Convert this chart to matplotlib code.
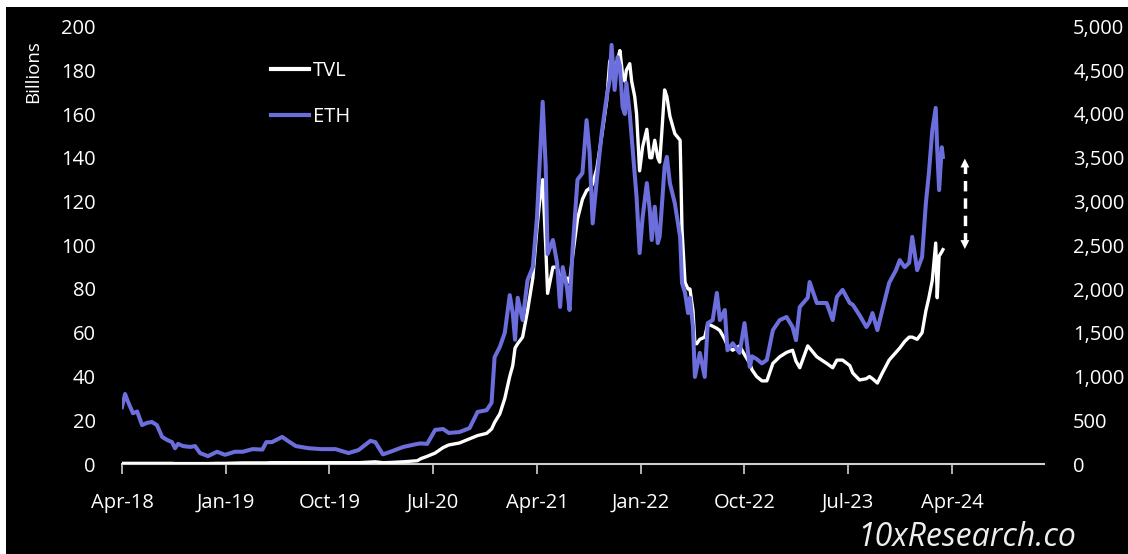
import pandas as pd
import matplotlib.pyplot as plt
import matplotlib.dates as mdates
from matplotlib.patches import Rectangle
from matplotlib.lines import Line2D
from matplotlib.ticker import FuncFormatter, MultipleLocator

plt.rcParams['font.family'] = ['Open Sans', 'DejaVu Sans']

# DeFi TVL (billions, left axis) and ETH price (USD, right axis)
dates = [
    "2018-04-25", "2018-05-03", "2018-05-11", "2018-05-24", "2018-06-04", "2018-06-17",
    "2018-06-30", "2018-07-13", "2018-07-26", "2018-08-09", "2018-08-22", "2018-09-04",
    "2018-09-12", "2018-09-20", "2018-10-03", "2018-10-22", "2018-11-04", "2018-11-17",
    "2018-12-08", "2019-01-01", "2019-01-22", "2019-02-17", "2019-03-10", "2019-04-05",
    "2019-05-01", "2019-05-11", "2019-05-26", "2019-06-22", "2019-07-05", "2019-07-28",
    "2019-08-31", "2019-10-04", "2019-11-10", "2019-12-14", "2020-01-10", "2020-02-10",
    "2020-02-23", "2020-03-14", "2020-04-03", "2020-05-07", "2020-06-13", "2020-06-23",
    "2020-07-09", "2020-07-30", "2020-08-20", "2020-09-04", "2020-10-02", "2020-10-29",
    "2020-11-19", "2020-12-13", "2020-12-26", "2021-01-03", "2021-01-17", "2021-01-30",
    "2021-02-12", "2021-02-20", "2021-02-26", "2021-03-05", "2021-03-18", "2021-03-31",
    "2021-04-14", "2021-04-25", "2021-05-02", "2021-05-10", "2021-05-18", "2021-05-23",
    "2021-06-06", "2021-06-17", "2021-06-25", "2021-07-02", "2021-07-13", "2021-07-20",
    "2021-07-28", "2021-08-10", "2021-08-23", "2021-09-03", "2021-09-11", "2021-09-19",
    "2021-09-30", "2021-10-13", "2021-10-26", "2021-11-03", "2021-11-08", "2021-11-16",
    "2021-11-24", "2021-11-30", "2021-12-07", "2021-12-13", "2021-12-17", "2021-12-26",
    "2021-12-31", "2022-01-08", "2022-01-13", "2022-01-21", "2022-01-29", "2022-02-09",
    "2022-02-17", "2022-02-22", "2022-03-02", "2022-03-10", "2022-03-15", "2022-03-20",
    "2022-03-28", "2022-04-03", "2022-04-11", "2022-04-24", "2022-05-08", "2022-05-13",
    "2022-05-21", "2022-05-29", "2022-06-03", "2022-06-11", "2022-06-16", "2022-06-21",
    "2022-06-29", "2022-07-12", "2022-07-20", "2022-08-02", "2022-08-13", "2022-08-21",
    "2022-09-03", "2022-09-10", "2022-09-24", "2022-10-12", "2022-10-25", "2022-11-08",
    "2022-11-14", "2022-11-26", "2022-12-10", "2022-12-23", "2023-01-08", "2023-01-26",
    "2023-02-13", "2023-03-01", "2023-03-10", "2023-03-20", "2023-04-10", "2023-04-15",
    "2023-05-04", "2023-05-30", "2023-06-15", "2023-06-26", "2023-07-11", "2023-07-30",
    "2023-08-07", "2023-08-25", "2023-09-12", "2023-09-20", "2023-09-28", "2023-10-11",
    "2023-10-24", "2023-11-11", "2023-11-29", "2023-12-09", "2023-12-22", "2024-01-03",
    "2024-01-11", "2024-01-24", "2024-02-06", "2024-02-16", "2024-02-24", "2024-03-04",
    "2024-03-13", "2024-03-17", "2024-03-22", "2024-03-29", "2024-04-01",
]

tvl = [
    0.3, 0.3, 0.3, 0.3, 0.3, 0.3,
    0.3, 0.3, 0.3, 0.3, 0.3, 0.3,
    0.2, 0.2, 0.2, 0.2, 0.2, 0.2,
    0.2, 0.3, 0.3, 0.4, 0.5, 0.5,
    0.5, 0.5, 0.6, 0.6, 0.6, 0.6,
    0.6, 0.6, 0.6, 0.6, 0.6, 0.9,
    1.0, 0.6, 0.7, 1.0, 1.5, 2.5,
    3.5, 5.0, 7.5, 8.7, 9.6, 11.5,
    13, 14, 16, 19, 23, 30,
    40, 45, 53, 55, 58, 70,
    85, 108, 120, 130, 100, 78,
    90, 90, 85, 84, 85, 83,
    95, 112, 121, 125, 126, 128,
    135, 150, 166, 184, 186, 180,
    185, 189, 178, 175, 180, 183,
    175, 168, 160, 134, 145, 153,
    140, 140, 148, 140, 138, 150,
    171, 168, 159, 151, 148, 107,
    83, 80, 80, 70, 55, 55,
    57, 58, 64, 63, 62, 61,
    57, 54, 52, 54, 50, 46,
    43, 40, 38, 38, 46, 49,
    51, 52, 47, 44, 54, 53,
    49, 46, 44, 47.5, 47.5, 45,
    41.6, 38.4, 39, 40, 39, 37,
    41.6, 47.5, 51, 53, 56, 58,
    58, 57, 60, 70, 76, 84,
    101, 76, 95, 97, 98,
]

eth = [
    650, 800, 710, 580, 600, 445,
    470, 480, 445, 310, 275, 250,
    180, 230, 205, 195, 205, 125,
    90, 140, 105, 140, 140, 170,
    165, 250, 250, 310, 270, 205,
    180, 170, 170, 125, 160, 265,
    250, 110, 140, 195, 230, 235,
    230, 390, 400, 355, 365, 410,
    595, 615, 700, 1220, 1340, 1500,
    1930, 1725, 1420, 1900, 1645, 2100,
    2250, 2820, 3440, 4140, 3400, 2400,
    2560, 2300, 1795, 2250, 2020, 1760,
    2450, 3250, 3325, 3930, 3555, 2750,
    3250, 3785, 4195, 4390, 4790, 4275,
    4650, 4550, 4080, 4000, 4355, 4000,
    3735, 3300, 3050, 2410, 2820, 3210,
    2900, 2560, 2940, 2525, 2600, 2900,
    3400, 3510, 3210, 2980, 2595, 2070,
    1955, 1725, 1900, 1565, 995, 1100,
    1270, 995, 1610, 1645, 1955, 1645,
    1760, 1300, 1380, 1270, 1610, 1110,
    1230, 1200, 1150, 1190, 1530, 1645,
    1680, 1565, 1415, 1795, 1900, 2080,
    1840, 1840, 1645, 1910, 1990, 1840,
    1820, 1700, 1565, 1620, 1725, 1530,
    1760, 2070, 2215, 2330, 2250, 2300,
    2595, 2215, 2365, 2980, 3325, 3815,
    4070, 3590, 3130, 3620, 3510,
]

tick_dates = ["2018-04-25", "2019-01-25", "2019-10-25", "2020-07-25", "2021-04-25",
              "2022-01-25", "2022-10-25", "2023-07-25", "2024-04-25"]

df = pd.DataFrame({"date": pd.to_datetime(dates), "tvl": tvl, "eth": eth})

eth_color = "#6b6edb"
axis_grey = "#d0d0d0"
tick_size = 14.5

fig = plt.figure(figsize=(11.28, 5.54), dpi=100, facecolor="white")
# black panel, leaving a thin white edge on the top and left
fig.patches.append(Rectangle((6 / 1128, 0), 1 - 6 / 1128, 1 - 7 / 554,
                             transform=fig.transFigure, facecolor="black",
                             edgecolor="none", zorder=-10))

ax = fig.add_axes([122 / 1128, 1 - 464 / 554, 922 / 1128, 437.5 / 554])
ax.set_facecolor("none")
ax2 = ax.twinx()
ax2.set_facecolor("none")

ax.plot(df["date"], df["tvl"], color="white", lw=2.4, zorder=3)
ax2.plot(df["date"], df["eth"], color=eth_color, lw=2.9, zorder=3)

ax.set_xlim(pd.Timestamp("2018-04-25"), pd.Timestamp("2024-12-24"))
ax.set_ylim(0, 200)
ax2.set_ylim(0, 5000)
ax.yaxis.set_major_locator(MultipleLocator(20))
ax2.yaxis.set_major_locator(MultipleLocator(500))
ax2.yaxis.set_major_formatter(FuncFormatter(lambda v, p: f"{v:,.0f}"))

ax.set_xticks(pd.to_datetime(tick_dates))
ax.xaxis.set_major_formatter(mdates.DateFormatter("%b-%y"))

for a in (ax, ax2):
    for s in a.spines.values():
        s.set_visible(False)
ax.spines["bottom"].set_visible(True)
ax.spines["bottom"].set_color(axis_grey)
ax.spines["bottom"].set_linewidth(1.5)

ax.tick_params(axis="x", colors=axis_grey, length=7, width=1.2, pad=14,
               labelsize=tick_size, labelcolor="white")
ax.tick_params(axis="y", length=0, pad=19, labelsize=tick_size, labelcolor="white")
ax2.tick_params(axis="y", length=0, pad=21, labelsize=tick_size, labelcolor="white")

ax.text(33 / 1128, 1 - 72 / 554, "Billions", transform=fig.transFigure,
        rotation=90, ha="center", va="center", color="white", fontsize=13.5)

handles = [Line2D([], [], color="white", lw=3), Line2D([], [], color=eth_color, lw=3)]
fig.legend(handles, ["TVL", "ETH"], loc="upper left",
           bbox_to_anchor=(271 / 1128, 1 - 61 / 554), bbox_transform=fig.transFigure,
           frameon=False, fontsize=14.5, labelcolor="white", handlelength=1.9,
           handletextpad=0.2, labelspacing=1.3, borderpad=0, borderaxespad=0)

# dashed double arrow showing the gap between ETH and TVL at the end of the series
gap_x = df["date"].iloc[-1] + pd.Timedelta(days=58)
top = df["eth"].iloc[-1] / 25
bottom = df["tvl"].iloc[-1]
ax.plot([gap_x, gap_x], [bottom + 3, top - 3], color="white", lw=2.5,
        dashes=(3, 2), zorder=5)
for y0, y1 in ((top - 4, top + 0.5), (bottom + 4, bottom - 1)):
    ax.annotate("", xy=(gap_x, y1), xytext=(gap_x, y0),
                arrowprops=dict(arrowstyle="-|>", color="white", lw=0,
                                mutation_scale=16), zorder=5)

fig.text(1076 / 1128, 1 - 537 / 554, "10xResearch.co", ha="right", va="center",
         color="#eeeeee", fontsize=23, fontstyle="italic")

fig.savefig("out.png", dpi=100, facecolor=fig.get_facecolor())
